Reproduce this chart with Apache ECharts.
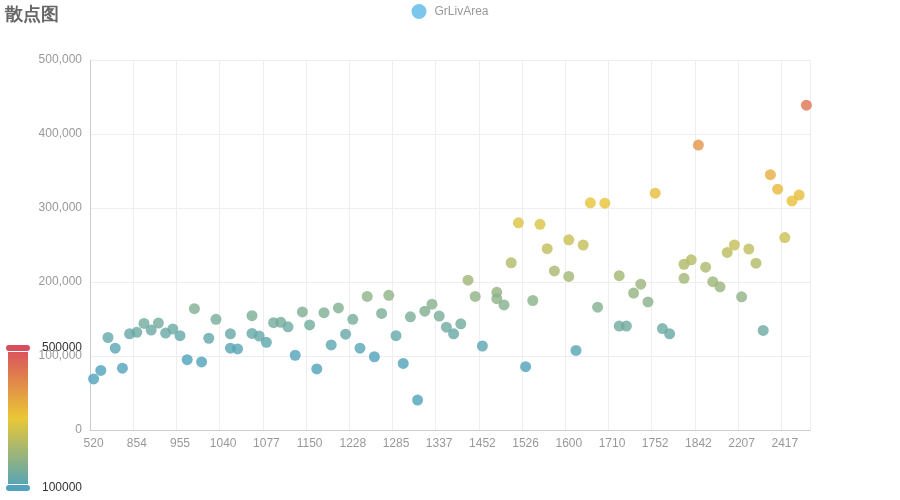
<!DOCTYPE html>
<html>
<head>
<meta charset="utf-8">
<script src="https://cdn.jsdelivr.net/npm/echarts@6/dist/echarts.min.js"></script>
<style>html,body{margin:0;padding:0;background:#fff}#main{width:900px;height:500px}</style>
</head>
<body>
<div id="main"></div>
<script>
// Category names (GrLivArea), duplicates share the slot of their last occurrence
var categories = [
  '520','605','672','728','780','816',
  '854','864','894','912','925','941',
  '955','968','990','1004','1022','1032',
  '1040','1040','1047','1056','1056','1068',
  '1077','1092','1100','1114','1126','1138',
  '1150','1158','1173','1188','1200','1214',
  '1228','1236','1250','1258','1268','1276',
  '1285','1294','1302','1314','1320','1329',
  '1337','1350','1368','1392','1414','1430',
  '1452','1470','1470','1484','1500','1512',
  '1526','1541','1556','1572','1588','1600',
  '1600','1620','1647','1668','1680','1696',
  '1710','1710','1717','1728','1734','1743',
  '1752','1768','1786','1800','1800','1820',
  '1842','1869','1904','1950','2008','2110',
  '2207','2250','2290','2334','2364','2392',
  '2417','2520','2640','2822'
];
// SalePrice per point, in the same order as categories
var salePrice = [
  69000, 80500, 125000, 110500, 83500, 130000,
  132000, 144000, 135000, 144500, 131000, 136500,
  127500, 95000, 164000, 92000, 124000, 149500,
  130000, 110500, 109500, 154500, 130500, 127000,
  118500, 145000, 145500, 139500, 101000, 159500,
  142000, 82500, 158500, 115000, 165000, 129500,
  149500, 110500, 180500, 99000, 157500, 182000,
  127500, 90000, 153000, 40500, 160500, 170000,
  154000, 139000, 130000, 143500, 202500, 180500,
  113500, 186000, 177500, 169000, 226000, 280000,
  85500, 175000, 278000, 245000, 215000, 257000,
  207500, 107500, 250000, 307000, 166000, 306500,
  208500, 140500, 140500, 185000, 197000, 173000,
  320000, 137000, 130000, 224000, 205000, 230000,
  385000, 220000, 200500, 193500, 240000, 250000,
  180000, 244500, 225500, 134500, 345000, 325500,
  260000, 309500, 317500, 439000
];
var yTicks = [0, 100000, 200000, 300000, 400000, 500000];
var rampColors = ['#50a3ba', '#eac736', '#d94e5d'];

var points = categories.map(function (c, i) {
  return [categories.lastIndexOf(c), salePrice[i]];
});

var chart = echarts.init(document.getElementById('main'));
chart.setOption({
  animation: false,
  title: {
    text: '散点图', left: 0, top: 1,
    textStyle: { fontSize: 18, fontWeight: 'bold', color: '#666' }
  },
  legend: {
    top: -1, left: 'center',
    data: ['GrLivArea'],
    icon: 'circle', itemWidth: 15, itemHeight: 15, itemGap: 10,
    textStyle: { color: '#999', fontSize: 12, padding: [0, 0, 0, 3] }
  },
  grid: { left: 90, right: 90, top: 60, bottom: 70 },
  xAxis: {
    type: 'category',
    data: categories,
    boundaryGap: true,
    axisLine: { lineStyle: { color: '#ccc' } },
    axisTick: { show: false },
    axisLabel: { interval: 5, color: '#999', fontSize: 12 },
    splitLine: { show: true, interval: 5, lineStyle: { color: '#eee' } }
  },
  yAxis: {
    type: 'value',
    min: yTicks[0], max: yTicks[yTicks.length - 1], interval: 100000,
    axisLine: { show: true, lineStyle: { color: '#ccc' } },
    axisTick: { show: false },
    axisLabel: { color: '#999', fontSize: 12 },
    splitLine: { show: true, lineStyle: { color: '#eee' } }
  },
  visualMap: {
    type: 'continuous',
    min: 100000, max: 500000,
    dimension: 1,
    calculable: true,
    left: -10, bottom: -9,
    itemWidth: 20, itemHeight: 140,
    inRange: { color: rampColors },
    outOfRange: { color: rampColors },
    textStyle: { color: '#333', fontSize: 12 }
  },
  series: [{
    name: 'GrLivArea',
    type: 'scatter',
    data: points,
    symbolSize: 11,
    itemStyle: { color: '#5ab8e6', opacity: 0.8 }
  }]
});
</script>
</body>
</html>
